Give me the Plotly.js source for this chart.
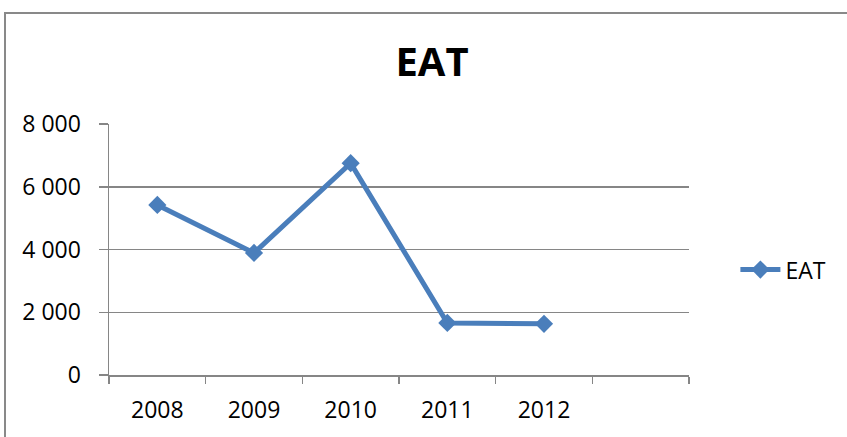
<!DOCTYPE html>
<html>
<head>
<meta charset="utf-8">
<script src="https://cdn.plot.ly/plotly-3.0.1.min.js"></script>
<style>
  html, body { margin: 0; padding: 0; background: #fff; overflow: hidden; }
  #wrap { position: relative; width: 847px; height: 437px; }
  #chart { position: absolute; left: 0; top: 0; width: 847px; height: 437px; }
  #frame { position: absolute; left: 4px; top: 12px; width: 900px; height: 500px;
           border: 2px solid #898989; box-sizing: border-box; pointer-events: none; }
</style>
</head>
<body>
<div id="wrap">
  <div id="chart"></div>
  <div id="frame"></div>
</div>
<script>
// Data
const years = ['2008', '2009', '2010', '2011', '2012'];
const eatValues = [5420, 3890, 6750, 1660, 1630];
const extraSlot = [' '];              // empty sixth category slot on the axis
const yTickVals = [0, 2000, 4000, 6000, 8000];
const seriesName = 'EAT';
const chartTitle = 'EAT';

const blue = '#4A7EBB';
const gray = '#868686';
const font = 'Open Sans, Lato, sans-serif';

const trace = {
  type: 'scatter',
  mode: 'lines+markers',
  name: seriesName,
  x: years,
  y: eatValues,
  line: { color: blue, width: 5 },
  marker: { symbol: 'diamond', size: 14, color: blue, line: { width: 0 } },
  hoverinfo: 'x+y'
};

const layout = {
  width: 847,
  height: 437,
  margin: { l: 109, r: 158, t: 124, b: 62, pad: 0 },
  paper_bgcolor: '#ffffff',
  plot_bgcolor: '#ffffff',
  separators: ', ',
  font: { family: font, size: 23, color: '#000000' },
  title: {
    text: '<b>' + chartTitle + '</b>',
    font: { family: font, size: 40, color: '#000000' },
    x: 432 / 847, xref: 'container', xanchor: 'center',
    y: 1 - 62 / 437, yref: 'container', yanchor: 'middle'
  },
  showlegend: true,
  legend: {
    x: 1.08, xanchor: 'left', y: 0.42, yanchor: 'middle',
    itemwidth: 40,
    font: { family: font, size: 23, color: '#000000' },
    bgcolor: 'rgba(0,0,0,0)', borderwidth: 0
  },
  xaxis: {
    type: 'category',
    categoryorder: 'array',
    categoryarray: years.concat(extraSlot),
    range: [-0.5, 5.5],
    tickson: 'boundaries',
    ticks: 'outside', ticklen: 7, tickwidth: 1.5, tickcolor: gray,
    showline: true, linecolor: gray, linewidth: 1.5,
    showgrid: false, zeroline: false,
    tickfont: { family: font, size: 23, color: '#000000' },
    ticklabelstandoff: 14,
    fixedrange: true
  },
  yaxis: {
    range: [0, 8000],
    tickvals: yTickVals,
    separatethousands: true,
    tickformat: ',d',
    ticks: 'outside', ticklen: 9, tickwidth: 1.5, tickcolor: gray,
    showline: true, linecolor: gray, linewidth: 1.5,
    showgrid: true, gridcolor: gray, gridwidth: 1.5,
    zeroline: false,
    tickfont: { family: font, size: 23, color: '#000000' },
    ticklabelstandoff: 13,
    fixedrange: true
  }
};

Plotly.newPlot('chart', [trace], layout, { displayModeBar: false, staticPlot: true });
</script>
</body>
</html>
